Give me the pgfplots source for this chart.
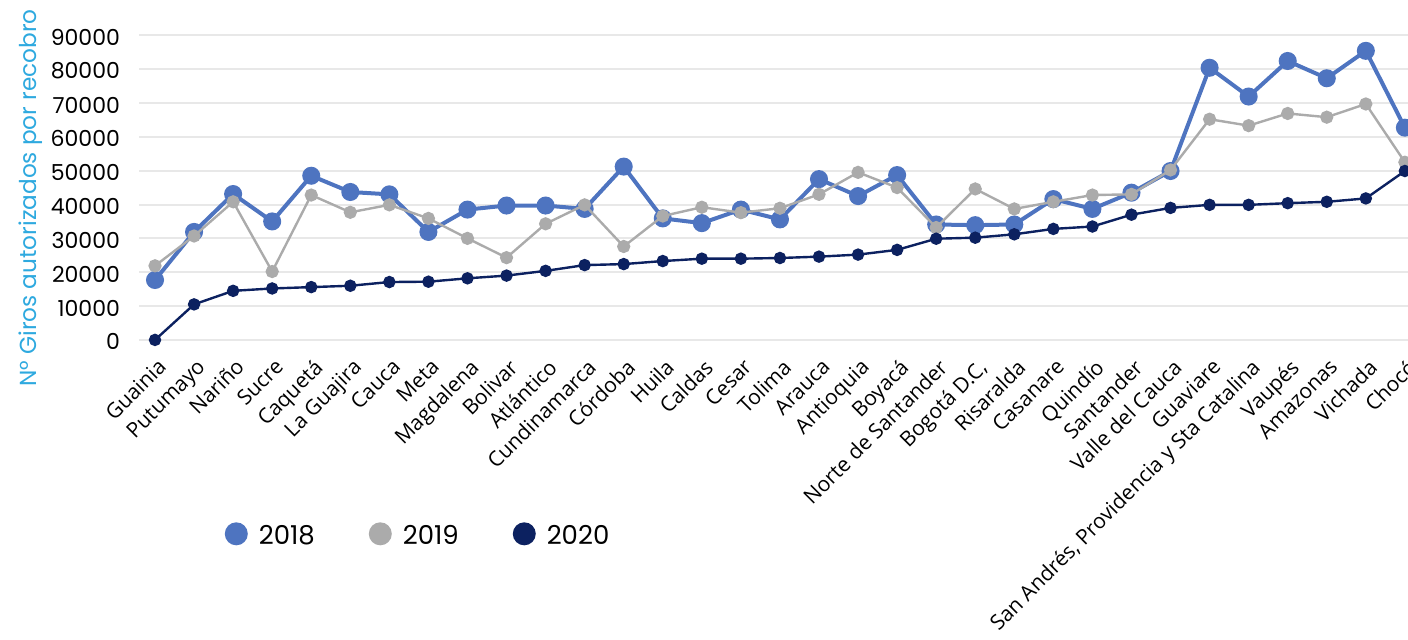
\documentclass[border=0pt]{standalone}
\usepackage{pgfplots}
\pgfplotsset{compat=1.18}
\usepackage{pgfplotstable}
\usepackage{fontspec}
\setmainfont{Poppins}
\newfontfamily\labfont{Open Sans}
\definecolor{c2018}{HTML}{4E74C0}
\definecolor{c2019}{HTML}{ABABAB}
\definecolor{c2020}{HTML}{0C2160}
\definecolor{ylab}{HTML}{2EA9DF}
\definecolor{gridc}{HTML}{E8E8E8}

\pgfplotstableread{
x  a     b     c
0  17700 21900 0
1  31900 30700 10500
2  43100 40800 14500
3  35000 20200 15200
4  48500 42800 15600
5  43700 37700 16000
6  43000 39900 17100
7  31900 35900 17200
8  38500 30000 18200
9  39700 24300 19000
10 39700 34300 20400
11 38700 39900 22100
12 51200 27600 22400
13 35900 36600 23300
14 34500 39200 24000
15 38500 37600 24000
16 35600 38900 24200
17 47500 43000 24600
18 42500 49500 25200
19 48700 45000 26600
20 34100 33200 29900
21 33900 44600 30200
22 34100 38700 31200
23 41600 40800 32800
24 38700 42800 33500
25 43500 43000 37000
26 49900 50200 39000
27 80400 65200 39900
28 71900 63300 39900
29 82400 66900 40400
30 77300 65800 40800
31 85400 69700 41800
32 62700 52500 49900
}\data

\begin{document}
\begin{tikzpicture}
\begin{axis}[
  scale only axis,
  width=634.5pt, height=160.8pt,
  xmin=-0.41, xmax=32.08,
  ymin=-3000, ymax=92000,
  axis line style={draw=none},
  major tick length=0pt,
  ymajorgrids,
  grid style={gridc, line width=1pt},
  ytick={0,10000,...,90000},
  scaled y ticks=false,
  yticklabel style={font=\fontsize{11}{13}\selectfont, xshift=-6pt, yshift=-1pt},
  /pgf/number format/1000 sep={},
  /pgf/number format/assume math mode=true,
  xtick={0,...,32},
  xticklabels={Guainia,Putumayo,Nariño,Sucre,Caquetá,La Guajira,Cauca,Meta,Magdalena,Bolivar,Atlántico,Cundinamarca,Córdoba,Huila,Caldas,Cesar,Tolima,Arauca,Antioquia,Boyacá,Norte de Santander,{Bogotá D.C,},Risaralda,Casanare,Quindío,Santander,Valle del Cauca,Guaviare,{San Andrés, Providencia y Sta Catalina},Vaupés,Amazonas,Vichada,Chocó},
  xticklabel style={font=\labfont\fontsize{10.5}{12}\selectfont, rotate=45, anchor=north east, inner sep=1pt, xshift=-1pt, yshift=-2pt},
  ylabel={N° Giros autorizados por recobro},
  ylabel style={at={(axis description cs:-0.1,0.473)}, anchor=north, font=\fontsize{11.6}{13}\selectfont, text=ylab},
  clip marker paths=true,
  legend style={at={(axis description cs:0.2207,-0.5807)}, anchor=center, draw=none, fill=none,
    legend columns=3, font=\fontsize{13}{15}\selectfont,
    /tikz/every even column/.append style={column sep=25pt}},
  legend image code/.code={\path[#1, draw=none] (0pt,1.5pt) circle (5.75pt); \path (9.25pt,0pt);},
]
\coordinate (bl) at (rel axis cs:0,0);
\coordinate (tr) at (rel axis cs:1,1);
\addplot[c2018, line width=2pt, mark=*, mark size=3.5pt, forget plot] table[x=x,y=a]{\data};
\addplot[c2019, line width=1.2pt, mark=*, mark size=2.7pt, forget plot] table[x=x,y=b]{\data};
\addplot[c2020, line width=1.2pt, mark=*, mark size=2.5pt, forget plot] table[x=x,y=c]{\data};
\addlegendimage{fill=c2018, draw=none}
\addlegendentry{2018}
\addlegendimage{fill=c2019, draw=none}
\addlegendentry{2019}
\addlegendimage{fill=c2020, draw=none}
\addlegendentry{2020}
\end{axis}
\pgfresetboundingbox
\path ([xshift=-69.5pt,yshift=-144.9pt]bl) rectangle ([yshift=14.25pt]tr);
\end{tikzpicture}
\end{document}
